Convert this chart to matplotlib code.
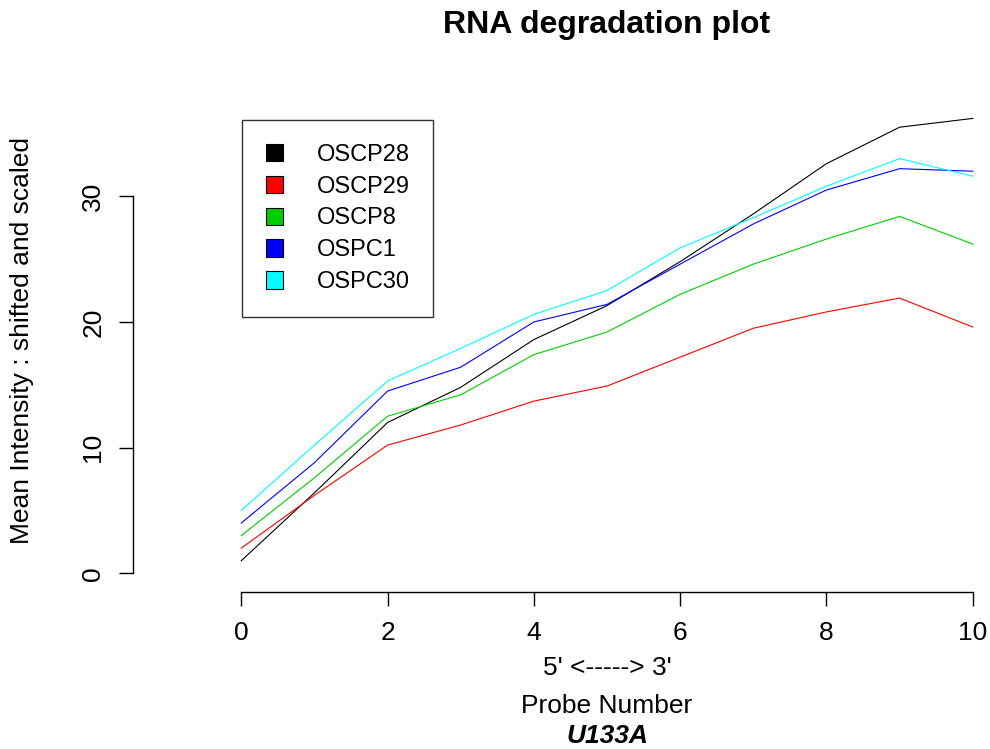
import matplotlib
matplotlib.use('Agg')
import matplotlib.pyplot as plt
from matplotlib.patches import Patch

# probe positions along the transcript (5' -> 3')
probe = [0, 1, 2, 3, 4, 5, 6, 7, 8, 9, 10]

# mean intensity, shifted and scaled
oscp28 = [1.0, 6.4, 12.0, 14.8, 18.6, 21.3, 24.8, 28.6, 32.6, 35.5, 36.2]
oscp29 = [2.0, 6.2, 10.2, 11.8, 13.7, 14.9, 17.2, 19.5, 20.8, 21.9, 19.6]
oscp8 = [3.0, 7.6, 12.5, 14.2, 17.4, 19.2, 22.2, 24.6, 26.6, 28.4, 26.2]
ospc1 = [4.0, 8.8, 14.5, 16.4, 20.0, 21.4, 24.6, 27.8, 30.5, 32.2, 32.0]
ospc30 = [5.0, 10.2, 15.3, 17.9, 20.6, 22.5, 25.9, 28.3, 30.8, 33.0, 31.6]

names = ['OSCP28', 'OSCP29', 'OSCP8', 'OSPC1', 'OSPC30']
series = [oscp28, oscp29, oscp8, ospc1, ospc30]
colors = ['#000000', '#FF0000', '#00CD00', '#0000FF', '#00FFFF']

plt.rcParams['font.family'] = ['Liberation Sans', 'DejaVu Sans']
fs = 19

fig = plt.figure(figsize=(9.9, 7.49), dpi=100)
# R style plot region: xlim -1..11, ylim 0..max+1 with 4% padding (runs past the right edge)
ax = fig.add_axes([133/990, 157/749, 948/990, 505/749])
for y, c in zip(series, colors):
    ax.plot(probe, y, color=c, linewidth=0.8)

ax.set_xlim(-1.48, 11.48)
ax.set_ylim(-1.49, 38.7)
for s in ['top', 'right']:
    ax.spines[s].set_visible(False)
ax.spines['bottom'].set_bounds(0, 10)
ax.spines['left'].set_bounds(0, 30)
ax.spines['bottom'].set_linewidth(1.0)
ax.spines['left'].set_linewidth(1.0)
ax.set_xticks([0, 2, 4, 6, 8, 10])
ax.set_yticks([0, 10, 20, 30])
ax.tick_params(axis='both', length=10, width=1.0, labelsize=fs, pad=11)
ax.tick_params(axis='y', labelrotation=90, pad=10)
for lab in ax.get_yticklabels():
    lab.set_va('center')

handles = [Patch(facecolor=c, edgecolor='black', linewidth=0.8) for c in colors]
leg = fig.legend(handles, names, loc='upper left', bbox_to_anchor=(242/990, 1-120/749),
                 fontsize=17, frameon=True, fancybox=False, edgecolor='black',
                 handlelength=0.75, handleheight=0.75, handletextpad=1.4,
                 borderpad=1.0, labelspacing=0.42, borderaxespad=0)
leg.get_frame().set_linewidth(1.0)

fig.text(607/990, 1-25/749, 'RNA degradation plot', ha='center', va='center',
         fontsize=23, fontweight='bold')
fig.text(607/990, 1-668/749, "5' <-----> 3'", ha='center', va='center', fontsize=fs)
fig.text(607/990, 1-706/749, 'Probe Number', ha='center', va='center', fontsize=fs)
fig.text(607/990, 1-736/749, 'U133A', ha='center', va='center', fontsize=fs,
         fontweight='bold', fontstyle='italic')
fig.text(22/990, 1-340/749, 'Mean Intensity : shifted and scaled', ha='center', va='center',
         rotation=90, fontsize=fs)

fig.savefig('out.png', dpi=100)
